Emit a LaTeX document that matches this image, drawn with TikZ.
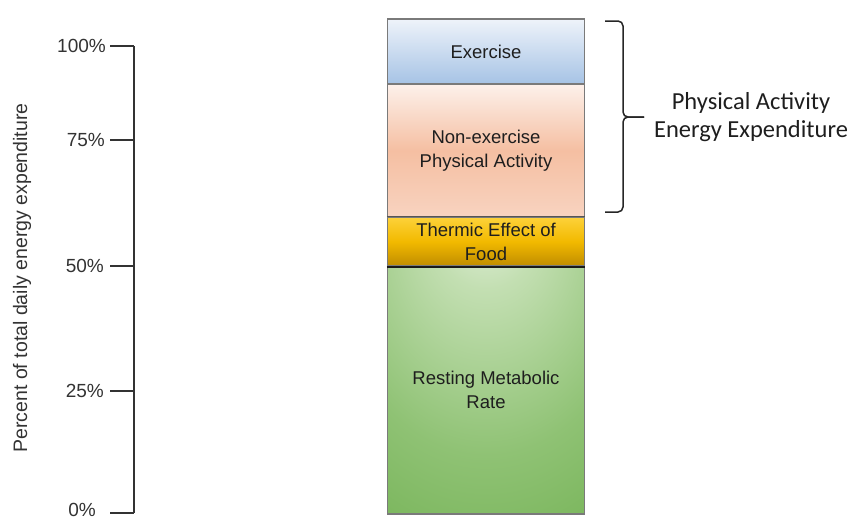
\documentclass[tikz,border=0pt]{standalone}
\usepackage{fontspec}
\setmainfont{Liberation Sans}
\newfontfamily\calibrifont{Carlito}
\definecolor{axisgray}{HTML}{333333}
\definecolor{labgray}{HTML}{333333}
\definecolor{txtdark}{HTML}{1E1E1E}
\definecolor{bordergray}{HTML}{7A7A7A}
\definecolor{exTop}{HTML}{EEF3FA}
\definecolor{exBot}{HTML}{A6C3E5}
\definecolor{neTop}{HTML}{FDF1EB}
\definecolor{neMid}{HTML}{F5BFA2}
\definecolor{neBot}{HTML}{F8D3C0}
\definecolor{tfTop}{HTML}{FDD23A}
\definecolor{tfMid}{HTML}{F2BA00}
\definecolor{tfBot}{HTML}{C08C00}
\definecolor{rmA}{HTML}{F1F7EE}
\definecolor{rmB}{HTML}{C3DFB2}
\definecolor{rmC}{HTML}{8FC274}
\definecolor{rmD}{HTML}{66AA45}
\pgfdeclareradialshading{rmrshade}{\pgfpoint{0bp}{40bp}}{%
  color(0bp)=(rmA); color(14bp)=(rmB); color(38bp)=(rmC); color(68bp)=(rmD); color(100bp)=(rmD)}
\tikzset{
  seg/.style={draw=bordergray, line width=1.3pt, minimum width=197pt, inner sep=0pt,
    align=center, text=txtdark, font=\fontsize{18.5}{24}\selectfont},
  axisline/.style={draw=axisgray, line width=1.8pt},
  ticklab/.style={anchor=east, text=labgray, font=\fontsize{19}{22}\selectfont, inner sep=0pt},
  bracestyle/.style={draw=black!85, line width=1.5pt, rounded corners=5pt}
}
\begin{document}
\begin{tikzpicture}[x=1pt,y=-1pt]
\useasboundingbox (0,0) rectangle (851,520);
% bar segments
\node[seg, minimum height=248pt, shading=rmrshade] (rmr) at (486,390) {Resting Metabolic\\Rate};
\node[seg, minimum height=49pt, top color=tfTop, bottom color=tfBot, middle color=tfMid] (tef) at (486,241.5) {Thermic Effect of\\Food};
\node[seg, minimum height=133pt, top color=neTop, bottom color=neBot, middle color=neMid] (nepa) at (486,150.5) {Non-exercise\\Physical Activity};
\node[seg, minimum height=65pt, top color=exTop, bottom color=exBot] (ex) at (486,51.5) {Exercise};
\draw[black!90, line width=2.2pt] (tef.south west) -- (tef.south east);
\draw[bordergray!70!black, line width=1pt] (tef.north west) -- (tef.north east);
% axis
\coordinate (atop) at (134,46);
\coordinate (abot) at (134,513);
\draw[axisline] (atop) -- (abot);
\foreach \y/\lab/\lx/\ly in {46/100\%/106/46, 140/75\%/105/140, 266/50\%/104/266, 391/25\%/104/391, 513/0\%/96/510}{
  \coordinate (t\y) at (110,\y);
  \draw[axisline] (t\y) -- (134,\y);
  \node[ticklab] (l\y) at (\lx,\ly) {\lab};
}
\node[rotate=90, text=labgray, font=\fontsize{19.5}{22}\selectfont, inner sep=0pt] (ylab) at (22,278) {Percent of total daily energy expenditure};
% brace
\coordinate (b1) at (605,21);
\coordinate (b2) at (605,212);
\coordinate (btip) at (644,117);
\draw[bracestyle] (b1) -- (623,21) -- (623,117) -- (btip);
\draw[bracestyle] (btip) -- (623,117) -- (623,212) -- (b2);
\node[font=\calibrifont\fontsize{24.5}{28}\selectfont, text=txtdark, align=center, inner sep=0pt] (pae) at (751,117) {Physical Activity\\Energy Expenditure};
\end{tikzpicture}
\end{document}
